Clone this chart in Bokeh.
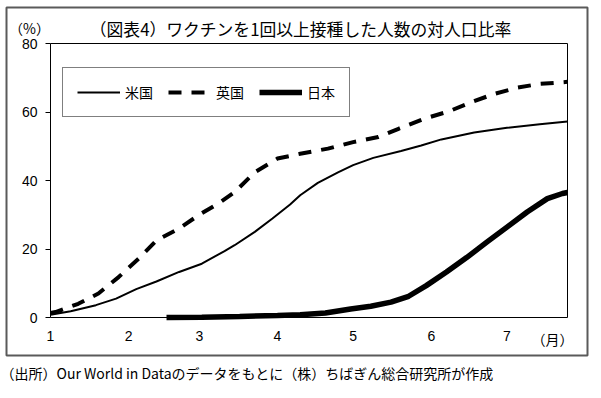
from bokeh.plotting import figure
from bokeh.models import (FixedTicker, Label, BoxAnnotation, Legend, LegendItem,
                          Range1d, Title)
from bokeh.embed import file_html
from bokeh.resources import INLINE

# ---- data (days since Jan 1, 2021 ; % of population with >=1 dose) ----
month_days = [0, 31, 59, 90, 120, 151, 181]
month_labels = ["1", "2", "3", "4", "5", "6", "7"]
y_ticks = [0, 20, 40, 60, 80]
x_extent = (0, 205)
y_extent = (0, 80)

us_days = [0, 8, 18, 26, 34, 42, 51, 60, 69, 73, 81, 88, 95, 99, 106, 114, 120,
           128, 139, 147, 155, 168, 181, 194, 205]
us_vals = [0.8, 1.8, 3.6, 5.5, 8.3, 10.5, 13.3, 15.7, 19.4, 21.1, 25.0, 28.9, 33.0,
           35.7, 39.3, 42.4, 44.5, 46.6, 48.6, 50.2, 52.0, 54.0, 55.4, 56.4, 57.2]

uk_days = [0, 2, 11, 19, 27, 35, 42, 51, 59, 67, 73, 81, 90, 99, 110, 120, 130,
           138, 148, 158, 167, 176, 185, 194, 205]
uk_vals = [1.3, 1.6, 4.0, 7.0, 11.8, 17.2, 22.5, 26.0, 30.0, 33.5, 36.6, 42.4, 46.4,
           47.8, 49.3, 51.2, 52.7, 55.1, 58.0, 60.2, 62.9, 65.3, 67.1, 68.2, 68.8]

jp_days = [46, 60, 75, 90, 99, 109, 119, 127, 135, 142, 149, 157, 165, 173, 181,
           189, 197, 203, 205]
jp_vals = [0.0, 0.1, 0.3, 0.6, 0.8, 1.3, 2.5, 3.3, 4.5, 6.2, 9.3, 13.3, 17.5, 22.0,
           26.4, 30.8, 34.7, 36.2, 36.5]

series_names = ["米国", "英国", "日本"]
title_text = "（図表4）ワクチンを1回以上接種した人数の対人口比率"
unit_text = "（%）"
month_unit = "（月）"
source_text = "（出所）Our World in Dataのデータをもとに（株）ちばぎん総合研究所が作成"

JP = "Noto Sans CJK JP"
NUM = "Liberation Sans"

# ---- geometry (canvas pixels) ----
W, H = 595, 392
FR_L, FR_R, FR_T, FR_B = 6, 587, 7, 355                 # outer chart frame
BOX_L, BOX_R, BOX_T, BOX_B = 50, 567, 43, 317          # plot box
sx = (BOX_R - BOX_L) / (x_extent[1] - x_extent[0])
sy = (BOX_B - BOX_T) / (y_extent[1] - y_extent[0])
x0 = x_extent[0] - (BOX_L - FR_L) / sx
y1 = y_extent[1] + (BOX_T - FR_T) / sy
xr = Range1d(x0, x0 + (FR_R - FR_L) / sx)
yr = Range1d(y1 - (FR_B - FR_T) / sy, y1)

def dx(px):
    return x0 + (px - FR_L) / sx

def dy(py):
    return y1 - (py - FR_T) / sy

p = figure(width=W, height=H, output_backend="svg", toolbar_location=None,
           x_range=xr, y_range=yr,
           min_border_left=FR_L, min_border_right=W - FR_R, min_border_top=FR_T,
           min_border_bottom=H - FR_B)
p.outline_line_color = "#5a5a5a"
p.outline_line_width = 2
p.xgrid.visible = False
p.ygrid.visible = False
p.background_fill_color = "white"
p.border_fill_color = "white"

# x axis (drawn at y = 0)
p.xaxis.fixed_location = 0
p.xaxis.bounds = x_extent
p.xaxis.ticker = FixedTicker(ticks=month_days)
p.xaxis.major_label_overrides = {d: l for d, l in zip(month_days, month_labels)}
p.xaxis.major_tick_out = 0
p.xaxis.major_tick_in = 0
p.xaxis.minor_tick_out = 0
p.xaxis.minor_tick_in = 0
p.xaxis.axis_line_color = None
p.xaxis.major_label_standoff = 13
p.xaxis.major_label_text_font = NUM
p.xaxis.major_label_text_font_size = "14px"
p.xaxis.major_label_text_color = "black"

# y axis (drawn at x = 0)
p.yaxis.fixed_location = 0
p.yaxis.bounds = y_extent
p.yaxis.ticker = FixedTicker(ticks=y_ticks)
p.yaxis.major_tick_out = 5
p.yaxis.major_tick_in = 0
p.yaxis.minor_tick_out = 0
p.yaxis.minor_tick_in = 0
p.yaxis.axis_line_color = None
p.yaxis.major_tick_line_color = "black"
p.yaxis.major_label_standoff = 8
p.yaxis.major_label_text_font = NUM
p.yaxis.major_label_text_font_size = "14px"
p.yaxis.major_label_text_color = "black"

# plot box
p.add_layout(BoxAnnotation(left=x_extent[0], right=x_extent[1], bottom=y_extent[0],
                           top=y_extent[1], fill_color=None, fill_alpha=0,
                           line_color="black", line_width=1, line_alpha=1))

r_us = p.line(us_days, us_vals, line_color="black", line_width=2)
r_uk = p.line(uk_days, uk_vals, line_color="black", line_width=4, line_dash="13 10")
r_jp = p.line(jp_days, jp_vals, line_color="black", line_width=5.5)

legend = Legend(items=[LegendItem(label=series_names[0], renderers=[r_us]),
                       LegendItem(label=series_names[1], renderers=[r_uk]),
                       LegendItem(label=series_names[2], renderers=[r_jp])],
                orientation="horizontal", location=(62 - FR_L, FR_B - 117),
                padding=14, spacing=15, label_standoff=5, glyph_width=43,
                glyph_height=18, label_height=18, label_text_font=JP,
                label_text_font_size="14px", label_text_line_height=0.9,
                label_text_color="black", border_line_color="black",
                border_line_width=1, background_fill_color="white",
                background_fill_alpha=1, margin=0)
p.add_layout(legend)

p.add_layout(Label(x=dx(300), y=dy(28.5), text=title_text, text_align="center",
                   text_baseline="middle", text_font=JP, text_font_size="16.8px",
                   text_color="black"))
p.add_layout(Label(x=dx(29), y=dy(27), text=unit_text, text_align="center",
                   text_baseline="middle", text_font=JP, text_font_size="14px",
                   text_color="black"))
p.add_layout(Label(x=dx(552), y=dy(338), text=month_unit, text_align="center",
                   text_baseline="middle", text_font=JP, text_font_size="14px",
                   text_color="black"))

# source note below the chart frame
p.add_layout(Title(text=source_text, align="left", offset=-FR_L, standoff=10,
                   text_font=JP, text_font_size="14px", text_font_style="normal",
                   text_color="black"), "below")

open("out.html", "w").write(file_html(p, INLINE))
